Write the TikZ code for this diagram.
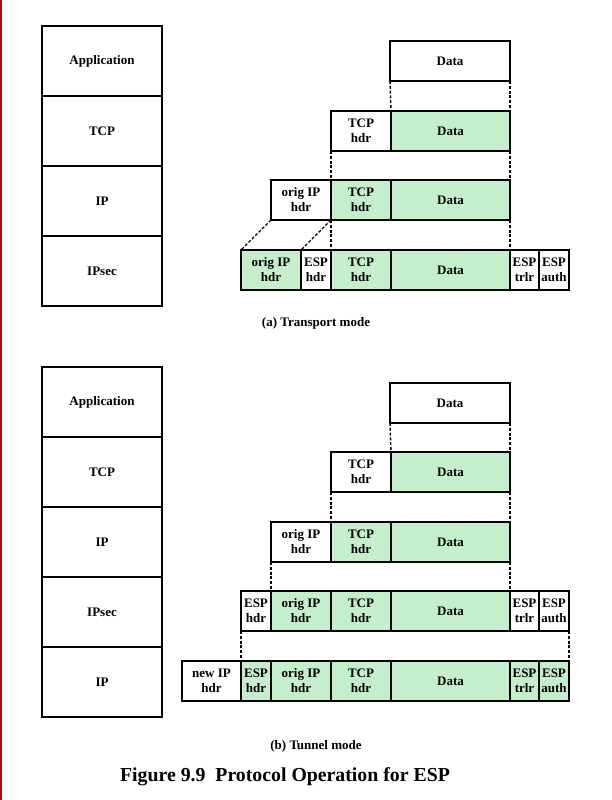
\documentclass[tikz,border=0pt]{standalone}
\usepackage{fontspec}
\setmainfont{Liberation Serif}
\definecolor{pktgreen}{RGB}{197,238,205}
\definecolor{edgered}{RGB}{170,15,15}
\begin{document}
\begin{tikzpicture}[x=1pt,y=-1pt,
  lbl/.style={font=\fontsize{13}{15}\selectfont\bfseries},
  cell/.style={draw, line width=1.7pt, anchor=north west, inner sep=0pt, outer sep=0pt,
    align=center, lbl, minimum height=40pt},
  grn/.style={fill=pktgreen},
  layer/.style={draw, line width=1.9pt, anchor=north west, inner sep=0pt, outer sep=0pt,
    align=center, lbl, minimum width=120pt, minimum height=70pt},
  guide/.style={line width=1.4pt, dash pattern=on 3pt off 1.8pt},
  captext/.style={font=\fontsize{13}{15}\selectfont\bfseries}]
\useasboundingbox (0,0) rectangle (611,800);
\fill[white] (0,0) rectangle (611,800);
\draw[edgered, line width=2pt] (1,0) -- (1,800);

% ---------- (a) transport mode ----------
\node[layer] (aApp) at (42,26) {Application};
\node[layer] (aTcp) at (42,96) {TCP};
\node[layer] (aIp) at (42,166) {IP};
\node[layer] (aSec) at (42,236) {IPsec};

\node[cell, minimum width=120pt] (a1d) at (390,41) {Data};

\node[cell, minimum width=60pt] (a2t) at (331,111) {TCP\\hdr};
\node[cell, grn, minimum width=119pt] (a2d) at (391,111) {Data};

\node[cell, minimum width=60pt] (a3o) at (271,180) {orig IP\\hdr};
\node[cell, grn, minimum width=60pt] (a3t) at (331,180) {TCP\\hdr};
\node[cell, grn, minimum width=119pt] (a3d) at (391,180) {Data};

\node[cell, grn, minimum width=60pt] (a4o) at (241,250) {orig IP\\hdr};
\node[cell, minimum width=30pt] (a4e) at (301,250) {ESP\\hdr};
\node[cell, grn, minimum width=60pt] (a4t) at (331,250) {TCP\\hdr};
\node[cell, grn, minimum width=119pt] (a4d) at (391,250) {Data};
\node[cell, minimum width=29pt] (a4r) at (510,250) {ESP\\trlr};
\node[cell, minimum width=30pt] (a4a) at (539,250) {ESP\\auth};

\draw[guide] (a1d.south west) -- (a2d.north west);
\draw[guide] (a1d.south east) -- (a2d.north east);
\draw[guide] (a2t.south west) -- (a3t.north west);
\draw[guide] (a2d.south east) -- (a3d.north east);
\draw[guide] (a3o.south west) -- (a4o.north west);
\draw[guide] (a3o.south east) -- (a4e.north west);
\draw[guide] (a3t.south west) -- (a4t.north west);
\draw[guide] (a3d.south east) -- (a4d.north east);

\node[captext] (capA) at (316,323) {(a) Transport mode};

% ---------- (b) tunnel mode ----------
\node[layer] (bApp) at (42,367) {Application};
\node[layer] (bTcp) at (42,437) {TCP};
\node[layer] (bIp) at (42,507) {IP};
\node[layer] (bSec) at (42,577) {IPsec};
\node[layer] (bIp2) at (42,647) {IP};

\node[cell, minimum width=120pt] (b1d) at (390,383) {Data};

\node[cell, minimum width=60pt] (b2t) at (331,452) {TCP\\hdr};
\node[cell, grn, minimum width=119pt] (b2d) at (391,452) {Data};

\node[cell, minimum width=60pt] (b3o) at (271,522) {orig IP\\hdr};
\node[cell, grn, minimum width=60pt] (b3t) at (331,522) {TCP\\hdr};
\node[cell, grn, minimum width=119pt] (b3d) at (391,522) {Data};

\node[cell, minimum width=30pt] (b4e) at (241,591) {ESP\\hdr};
\node[cell, grn, minimum width=60pt] (b4o) at (271,591) {orig IP\\hdr};
\node[cell, grn, minimum width=60pt] (b4t) at (331,591) {TCP\\hdr};
\node[cell, grn, minimum width=119pt] (b4d) at (391,591) {Data};
\node[cell, minimum width=29pt] (b4r) at (510,591) {ESP\\trlr};
\node[cell, minimum width=30pt] (b4a) at (539,591) {ESP\\auth};

\node[cell, minimum width=59pt] (b5n) at (182,661) {new IP\\hdr};
\node[cell, grn, minimum width=30pt] (b5e) at (241,661) {ESP\\hdr};
\node[cell, grn, minimum width=60pt] (b5o) at (271,661) {orig IP\\hdr};
\node[cell, grn, minimum width=60pt] (b5t) at (331,661) {TCP\\hdr};
\node[cell, grn, minimum width=119pt] (b5d) at (391,661) {Data};
\node[cell, grn, minimum width=29pt] (b5r) at (510,661) {ESP\\trlr};
\node[cell, grn, minimum width=30pt] (b5a) at (539,661) {ESP\\auth};

\draw[guide] (b1d.south west) -- (b2d.north west);
\draw[guide] (b1d.south east) -- (b2d.north east);
\draw[guide] (b2t.south west) -- (b3t.north west);
\draw[guide] (b2d.south east) -- (b3d.north east);
\draw[guide] (b3o.south west) -- (b4o.north west);
\draw[guide] (b3d.south east) -- (b4d.north east);
\draw[guide] (b4e.south west) -- (b5e.north west);
\draw[guide] (b4a.south east) -- (b5a.north east);

\node[captext] (capB) at (316,746) {(b) Tunnel mode};

\node[font=\fontsize{19.8}{22}\selectfont\bfseries] (title) at (285,777) {Figure 9.9\ \ Protocol Operation for ESP};
\end{tikzpicture}
\end{document}
